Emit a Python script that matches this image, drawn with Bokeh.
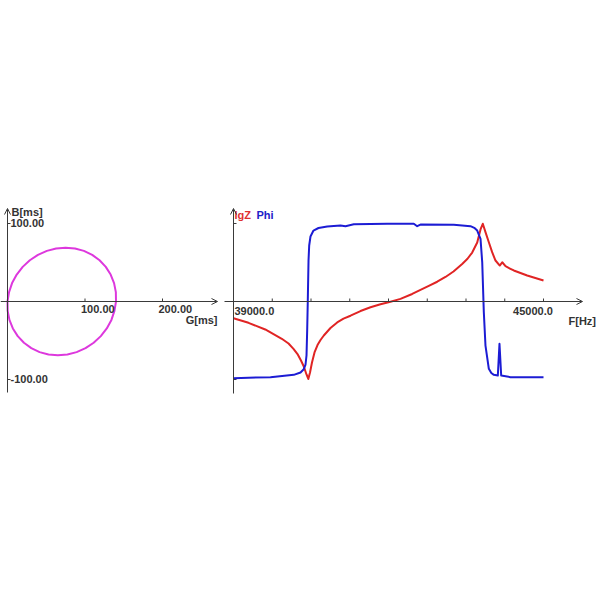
from bokeh.plotting import figure
from bokeh.models import Range1d, Arrow, OpenHead
from bokeh.core.properties import value
from bokeh.embed import file_html
from bokeh.resources import INLINE

# ---------------- Left panel: admittance circle (G vs B, mS) ----------------
circle_g = [140.0, 139.8, 137.5, 133.1, 126.8, 118.8, 109.3, 98.6, 87.1, 75.0, 62.7, 50.8,
            39.3, 28.8, 19.6, 11.9, 5.9, 2.0, 0.0, 0.2, 2.5, 6.9, 13.2, 21.2,
            30.7, 41.4, 52.9, 65.0, 77.3, 89.2, 100.7, 111.2, 120.4, 128.1, 134.1, 138.0, 140.0]
circle_b = [0.0, 12.0, 23.6, 34.5, 44.4, 52.9, 59.8, 64.9, 68.0, 69.0, 68.0, 64.9,
            59.8, 52.9, 44.4, 34.5, 23.6, 12.0, 0.0, -12.0, -23.6, -34.5, -44.4, -52.9,
            -59.8, -64.9, -68.0, -69.0, -68.0, -64.9, -59.8, -52.9, -44.4, -34.5, -23.6, -12.0, 0.0]
g_ticks = [100, 200]
g_tick_labels = ["100.00", "200.00"]
b_ticks = [100, -100]
b_tick_labels = ["100.00", "-100.00"]

# ---------------- Right panel: lgZ and Phi vs frequency ----------------
freq_lgz = [39000, 39290, 39614, 39935, 40065, 40161, 40239, 40306, 40361, 40413, 40448,
            40481, 40519, 40568, 40626, 40684, 40748, 40877, 41007, 41129, 41265, 41458,
            41652, 41845, 42039, 42232, 42459, 42619, 42780, 42943, 43103, 43258, 43426,
            43529, 43620, 43717, 43781, 43825, 43877, 43942, 44006, 44071, 44154, 44201,
            44265, 44361, 44425, 44684, 45000]
lgz = [-19.3, -24.6, -32.3, -43.0, -48.5, -54.6, -60.6, -68.1, -75.0, -84.2, -89.4,
       -81.9, -70.4, -58.8, -50.2, -44.4, -39.2, -30.6, -24.2, -19.8, -16.4, -11.0,
       -6.7, -3.2, -0.2, 3.0, 8.7, 13.3, 18.1, 22.8, 28.3, 34.6, 43.3,
       49.3, 56.5, 68.1, 83.1, 89.7, 80.0, 68.4, 56.9, 47.3, 41.5, 45.3,
       40.7, 37.7, 35.8, 30.0, 24.2]

freq_phi = [39000, 39716, 40167, 40297, 40355, 40394, 40413, 40426, 40438, 40452, 40465,
            40490, 40548, 40645, 40814, 41071, 41168, 41328, 41975, 42490, 42555, 42619,
            43264, 43587, 43660, 43717, 43781, 43814, 43845, 43877, 43942, 43990, 44039,
            44116, 44148, 44181, 44361, 45000]
phi = [-88.5, -87.3, -84.6, -81.9, -78.5, -72.7, -62.3, -33.5, 1.2, 47.3, 64.6,
       75.0, 81.9, 84.8, 86.5, 87.7, 86.9, 89.2, 89.7, 89.7, 86.9, 88.8,
       88.5, 86.9, 85.0, 81.9, 72.3, 45.3, -12.3, -50.8, -77.7, -82.5, -84.6,
       -85.4, -48.8, -85.4, -87.3, -87.3]
freq_ticks = [39750, 40500, 41250, 42000, 42750, 43500, 44250, 45000]
freq_label_values = [39000, 45000]
freq_labels = ["39000.0", "45000.0"]
phi_ticks = [90, -90]

# ---------------- figure & scales ----------------
W = H = 600
GPX, BPX = 0.775, 0.78          # left panel pixels per unit
FPX, YPX = 310 / 6000, 0.86667  # right panel pixels per unit
f0 = freq_label_values[0]

p = figure(width=W, height=H, title=None,
           x_range=Range1d(f0 - 233 / FPX, f0 + (W - 233) / FPX),
           y_range=Range1d(-(H - 301) / YPX, 301 / YPX),
           x_axis_type=None, y_axis_type=None,
           toolbar_location=None, output_backend="svg", min_border=0)
p.extra_x_ranges = {"g": Range1d(-7 / GPX, (W - 7) / GPX)}
p.extra_y_ranges = {"b": Range1d(-(H - 301) / BPX, 301 / BPX)}
p.outline_line_color = None
p.background_fill_color = "white"
p.border_fill_color = "white"

AX = "#3a3a3a"
TXT = "#333333"
FONT = value("Liberation Sans")
LB = dict(x_range_name="g", y_range_name="b")

def arrow(x0, y0, x1, y1, **kw):
    p.add_layout(Arrow(x_start=x0, y_start=y0, x_end=x1, y_end=y1,
                       line_color=AX, line_width=1,
                       end=OpenHead(size=6, line_color=AX, line_width=1),
                       start=None, **kw))

# ---- left panel axes ----
g_axis_end = 210 / GPX
arrow(-7 / GPX, 0, g_axis_end, 0, **LB)
arrow(0, -91 / BPX, 0, 93 / BPX, **LB)
p.segment(x0=g_ticks, y0=[0] * len(g_ticks), x1=g_ticks, y1=[3 / BPX] * len(g_ticks),
          line_color=AX, line_width=1, **LB)
p.segment(x0=[0] * len(b_ticks), y0=b_ticks, x1=[3 / GPX] * len(b_ticks), y1=b_ticks,
          line_color=AX, line_width=1, **LB)

p.line(circle_g, circle_b, line_color="#dd38dd", line_width=2, line_join="round", **LB)

txt = dict(text_font=FONT, text_font_style="bold", text_font_size="11px",
           text_baseline="middle")
p.text(x=g_ticks, y=[0] * len(g_ticks), text=g_tick_labels, text_color=TXT,
       text_align="left", x_offset=-4, y_offset=7, **LB, **txt)
p.text(x=[0] * len(b_ticks), y=b_ticks, text=b_tick_labels, text_color=TXT,
       text_align="left", x_offset=3, y_offset=-1, **LB, **txt)
p.text(x=[0], y=[93 / BPX], text=["B[ms]"], text_color=TXT, text_align="left",
       x_offset=4, y_offset=3, **LB, **txt)
p.text(x=[g_axis_end], y=[0], text=["G[ms]"], text_color=TXT, text_align="right",
       x_offset=0, y_offset=18, **LB, **txt)

# ---- right panel axes ----
f_axis_end = f0 + 349 / FPX
arrow(f0 - 9 / FPX, 0, f_axis_end, 0)
arrow(f0, -92 / YPX, f0, 93 / YPX)
p.segment(x0=freq_ticks, y0=[0] * len(freq_ticks), x1=freq_ticks, y1=[3 / YPX] * len(freq_ticks),
          line_color=AX, line_width=1)
p.segment(x0=[f0] * len(phi_ticks), y0=phi_ticks, x1=[f0 + 3 / FPX] * len(phi_ticks), y1=phi_ticks,
          line_color=AX, line_width=1)

p.line(freq_lgz, lgz, line_color="#e02424", line_width=2, line_join="round")
p.line(freq_phi, phi, line_color="#1c1cd4", line_width=2, line_join="round")

p.text(x=freq_label_values[:1], y=[0], text=freq_labels[:1], text_color=TXT,
       text_align="left", x_offset=1, y_offset=9, **txt)
p.text(x=freq_label_values[1:], y=[0], text=freq_labels[1:], text_color=TXT,
       text_align="center", x_offset=-10.5, y_offset=9, **txt)
p.text(x=[f_axis_end], y=[0], text=["F[Hz]"], text_color=TXT, text_align="left",
       x_offset=-14, y_offset=19, **txt)
p.text(x=[f0], y=[93 / YPX], text=["lgZ"], text_color="#e03030", text_align="left",
       x_offset=1, y_offset=6, **txt)
p.text(x=[f0], y=[93 / YPX], text=["Phi"], text_color="#2020c8", text_align="left",
       x_offset=23, y_offset=6, **txt)

open("out.html", "w").write(file_html(p, INLINE))
